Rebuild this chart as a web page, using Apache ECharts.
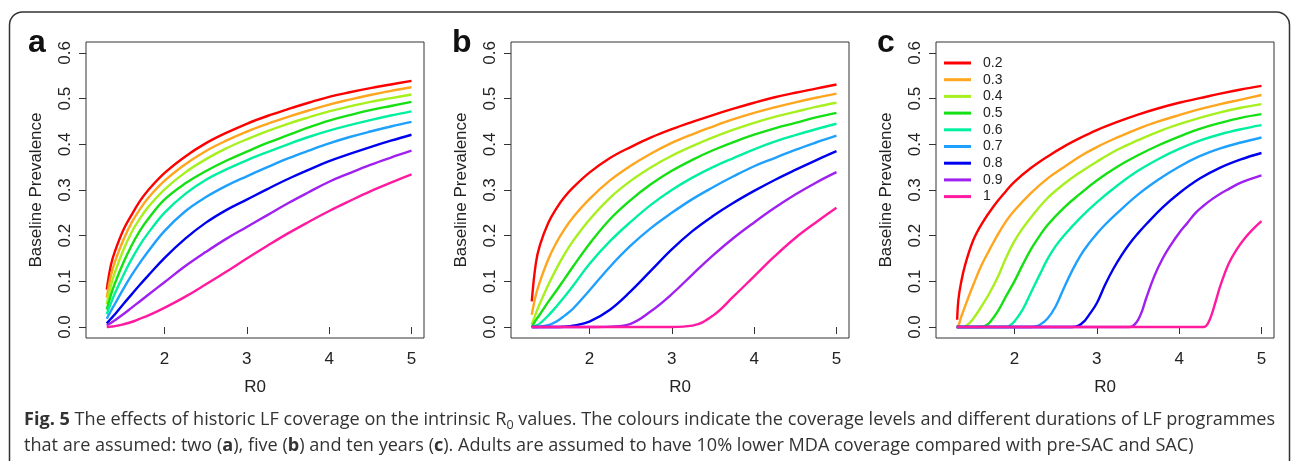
<!DOCTYPE html>
<html><head><meta charset="utf-8">
<script src="https://cdn.jsdelivr.net/npm/echarts@6/dist/echarts.min.js"></script>
<style>html,body{margin:0;padding:0;background:#fff}#c{width:1292px;height:461px}</style>
</head><body><div id="c"></div>
<script>
// ---------- data ----------
const COVERAGE = ['0.2', '0.3', '0.4', '0.5', '0.6', '0.7', '0.8', '0.9', '1'];
const X_TICKS = [2, 3, 4, 5];
const Y_TICKS = [0, 0.1, 0.2, 0.3, 0.4, 0.5, 0.6];
const PANEL_LETTERS = ['a', 'b', 'c'];

// Panel a (two years)
const X_A = [1.3, 1.35, 1.4, 1.5, 1.6, 1.7, 1.8, 2.0, 2.25, 2.5, 2.75, 3.0, 3.25, 3.5, 3.75, 4.0, 4.25, 4.5, 4.75, 5.0];
const A_02 = [0.082, 0.135, 0.166, 0.212, 0.245, 0.275, 0.299, 0.337, 0.373, 0.402, 0.425, 0.445, 0.462, 0.477, 0.491, 0.504, 0.514, 0.523, 0.531, 0.539];
const A_03 = [0.064, 0.112, 0.143, 0.19, 0.228, 0.257, 0.282, 0.32, 0.356, 0.385, 0.408, 0.428, 0.445, 0.46, 0.474, 0.487, 0.498, 0.508, 0.517, 0.525];
const A_04 = [0.05, 0.09, 0.12, 0.168, 0.207, 0.237, 0.262, 0.301, 0.338, 0.367, 0.391, 0.411, 0.429, 0.445, 0.459, 0.472, 0.483, 0.493, 0.501, 0.509];
const A_05 = [0.038, 0.07, 0.096, 0.14, 0.178, 0.21, 0.236, 0.279, 0.314, 0.341, 0.364, 0.384, 0.403, 0.42, 0.437, 0.452, 0.464, 0.475, 0.484, 0.493];
const A_06 = [0.028, 0.052, 0.074, 0.113, 0.148, 0.179, 0.205, 0.25, 0.291, 0.322, 0.345, 0.365, 0.383, 0.4, 0.416, 0.43, 0.442, 0.453, 0.463, 0.472];
const A_07 = [0.018, 0.035, 0.051, 0.083, 0.113, 0.14, 0.165, 0.21, 0.253, 0.284, 0.309, 0.33, 0.35, 0.369, 0.386, 0.402, 0.416, 0.428, 0.439, 0.449];
const A_08 = [0.008, 0.018, 0.028, 0.05, 0.071, 0.092, 0.112, 0.151, 0.193, 0.228, 0.256, 0.279, 0.302, 0.324, 0.344, 0.363, 0.379, 0.394, 0.408, 0.421];
const A_09 = [0.004, 0.009, 0.015, 0.028, 0.042, 0.056, 0.07, 0.098, 0.133, 0.164, 0.193, 0.219, 0.245, 0.271, 0.295, 0.318, 0.337, 0.355, 0.371, 0.386];
const A_10 = [0, 0.001, 0.002, 0.006, 0.011, 0.018, 0.025, 0.042, 0.066, 0.093, 0.121, 0.15, 0.178, 0.205, 0.23, 0.254, 0.276, 0.297, 0.316, 0.334];

// Panel b (five years)
const X_B = [1.3, 1.35, 1.4, 1.5, 1.6, 1.7, 1.8, 2.0, 2.25, 2.5, 2.75, 3.0, 3.25, 3.5, 3.75, 4.0, 4.25, 4.5, 4.75, 5.0];
const B_02 = [0.056, 0.14, 0.18, 0.228, 0.26, 0.285, 0.305, 0.338, 0.37, 0.394, 0.415, 0.433, 0.449, 0.464, 0.478, 0.491, 0.503, 0.513, 0.522, 0.531];
const B_03 = [0.027, 0.07, 0.1, 0.148, 0.185, 0.215, 0.24, 0.28, 0.321, 0.353, 0.38, 0.403, 0.422, 0.439, 0.455, 0.469, 0.481, 0.492, 0.502, 0.511];
const B_04 = [0.005, 0.03, 0.052, 0.092, 0.128, 0.16, 0.188, 0.235, 0.283, 0.32, 0.35, 0.375, 0.396, 0.415, 0.432, 0.447, 0.46, 0.471, 0.482, 0.491];
const B_05 = [0, 0.015, 0.028, 0.055, 0.08, 0.106, 0.132, 0.182, 0.236, 0.278, 0.313, 0.342, 0.366, 0.387, 0.405, 0.421, 0.435, 0.447, 0.459, 0.469];
const B_06 = [0, 0.003, 0.008, 0.025, 0.045, 0.067, 0.09, 0.138, 0.188, 0.23, 0.268, 0.3, 0.327, 0.35, 0.37, 0.389, 0.406, 0.42, 0.433, 0.445];
const B_07 = [0, 0, 0.001, 0.004, 0.012, 0.025, 0.04, 0.08, 0.132, 0.178, 0.217, 0.25, 0.28, 0.306, 0.33, 0.352, 0.37, 0.388, 0.404, 0.419];
const B_08 = [0, 0, 0, 0, 0, 0.001, 0.003, 0.012, 0.038, 0.078, 0.124, 0.17, 0.21, 0.243, 0.272, 0.298, 0.322, 0.344, 0.365, 0.385];
const B_09 = [0, 0, 0, 0, 0, 0, 0, 0, 0.001, 0.007, 0.035, 0.072, 0.115, 0.157, 0.195, 0.229, 0.261, 0.29, 0.316, 0.339];
const B_10 = [0, 0, 0, 0, 0, 0, 0, 0, 0, 0, 0, 0, 0.003, 0.025, 0.067, 0.111, 0.155, 0.195, 0.229, 0.261];

// Panel c (ten years): [R0, prevalence]
const C_02 = [[1.305, 0.016], [1.32, 0.06], [1.35, 0.095], [1.4, 0.135], [1.5, 0.19], [1.6, 0.225], [1.75, 0.265], [1.9, 0.298], [2.0, 0.318], [2.2, 0.348], [2.4, 0.373], [2.6, 0.395], [2.8, 0.414], [3.0, 0.431], [3.25, 0.449], [3.5, 0.465], [3.75, 0.479], [4.0, 0.491], [4.25, 0.501], [4.5, 0.511], [4.75, 0.520], [5.0, 0.528]];
const C_03 = [[1.3, 0], [1.32, 0.003], [1.35, 0.02], [1.4, 0.045], [1.5, 0.092], [1.6, 0.135], [1.7, 0.17], [1.8, 0.203], [1.9, 0.232], [2.0, 0.255], [2.2, 0.293], [2.4, 0.325], [2.6, 0.35], [2.8, 0.374], [3.0, 0.394], [3.25, 0.415], [3.5, 0.434], [3.75, 0.45], [4.0, 0.464], [4.25, 0.477], [4.5, 0.488], [4.75, 0.498], [5.0, 0.508]];
const C_04 = [[1.3, 0], [1.4, 0.002], [1.45, 0.008], [1.5, 0.018], [1.6, 0.045], [1.7, 0.075], [1.8, 0.11], [1.9, 0.152], [2.0, 0.188], [2.1, 0.216], [2.2, 0.24], [2.4, 0.282], [2.6, 0.313], [2.8, 0.339], [3.0, 0.362], [3.25, 0.388], [3.5, 0.409], [3.75, 0.428], [4.0, 0.444], [4.25, 0.458], [4.5, 0.47], [4.75, 0.48], [5.0, 0.488]];
const C_05 = [[1.3, 0], [1.6, 0], [1.65, 0.003], [1.7, 0.01], [1.8, 0.035], [1.9, 0.068], [2.0, 0.1], [2.1, 0.136], [2.2, 0.17], [2.3, 0.198], [2.4, 0.223], [2.6, 0.261], [2.8, 0.292], [3.0, 0.321], [3.25, 0.351], [3.5, 0.376], [3.75, 0.398], [4.0, 0.417], [4.25, 0.434], [4.5, 0.447], [4.75, 0.458], [5.0, 0.466]];
const C_06 = [[1.3, 0], [1.9, 0], [1.95, 0.004], [2.0, 0.012], [2.1, 0.038], [2.2, 0.075], [2.3, 0.112], [2.4, 0.148], [2.5, 0.177], [2.6, 0.2], [2.8, 0.239], [3.0, 0.273], [3.25, 0.31], [3.5, 0.342], [3.75, 0.368], [4.0, 0.39], [4.25, 0.408], [4.5, 0.422], [4.75, 0.433], [5.0, 0.442]];
const C_07 = [[1.3, 0], [2.2, 0], [2.3, 0.004], [2.4, 0.018], [2.5, 0.045], [2.6, 0.085], [2.7, 0.123], [2.8, 0.156], [2.9, 0.182], [3.0, 0.204], [3.1, 0.224], [3.25, 0.25], [3.5, 0.29], [3.75, 0.323], [4.0, 0.351], [4.25, 0.374], [4.5, 0.391], [4.75, 0.404], [5.0, 0.415]];
const C_08 = [[1.3, 0], [2.7, 0], [2.78, 0.003], [2.85, 0.013], [2.9, 0.025], [3.0, 0.052], [3.1, 0.092], [3.2, 0.127], [3.3, 0.157], [3.4, 0.183], [3.5, 0.205], [3.6, 0.225], [3.8, 0.262], [4.0, 0.293], [4.25, 0.325], [4.5, 0.349], [4.75, 0.367], [5.0, 0.381]];
const C_09 = [[1.3, 0], [3.4, 0], [3.45, 0.004], [3.5, 0.015], [3.55, 0.035], [3.6, 0.063], [3.7, 0.112], [3.8, 0.15], [3.9, 0.18], [4.0, 0.206], [4.1, 0.228], [4.2, 0.25], [4.3, 0.266], [4.4, 0.28], [4.5, 0.292], [4.6, 0.302], [4.75, 0.316], [5.0, 0.332]];
const C_10 = [[1.3, 0], [4.3, 0], [4.35, 0.008], [4.4, 0.03], [4.45, 0.06], [4.5, 0.09], [4.6, 0.138], [4.7, 0.17], [4.8, 0.195], [4.9, 0.215], [5.0, 0.232]];

// ---------- styling ----------
const COLORS = ['#FF0000', '#FFA51E', '#A6F01E', '#14E014', '#00F0A0', '#1EA0FF', '#0000F0', '#A020F0', '#FF1AA0'];
const X_MIN = 1.048, X_MAX = 5.152, Y_MIN = -0.024, Y_MAX = 0.624;
const GRID_LEFTS = [86, 511, 936];
const FONT = "'Liberation Sans', Arial, sans-serif";
const INK = '#222';

const pair = (xs, ys) => xs.map((x, i) => [x, ys[i]]);
const panels = [
  [A_02, A_03, A_04, A_05, A_06, A_07, A_08, A_09, A_10].map(y => pair(X_A, y)),
  [B_02, B_03, B_04, B_05, B_06, B_07, B_08, B_09, B_10].map(y => pair(X_B, y)),
  [C_02, C_03, C_04, C_05, C_06, C_07, C_08, C_09, C_10]
];

const grids = [], xAxes = [], yAxes = [], series = [], graphics = [];
GRID_LEFTS.forEach((left, p) => {
  grids.push({left: left, top: 42, width: 338, height: 296, show: true,
    borderColor: '#333', borderWidth: 1, backgroundColor: 'transparent'});
  xAxes.push({type: 'value', gridIndex: p, min: X_MIN, max: X_MAX,
    splitLine: {show: false}, axisLine: {show: false},
    axisTick: {show: true, customValues: X_TICKS, length: 7, lineStyle: {color: '#333', width: 1}},
    axisLabel: {customValues: X_TICKS, fontSize: 17, color: INK, fontFamily: FONT, margin: 13},
    name: 'R0', nameLocation: 'middle', nameGap: 41,
    nameTextStyle: {fontSize: 17, color: INK, fontFamily: FONT}});
  yAxes.push({type: 'value', gridIndex: p, min: Y_MIN, max: Y_MAX,
    splitLine: {show: false}, axisLine: {show: false},
    axisTick: {show: true, customValues: Y_TICKS, length: 7, lineStyle: {color: '#333', width: 1}},
    axisLabel: {customValues: Y_TICKS, fontSize: 17, color: INK, fontFamily: FONT, margin: 12, rotate: 90,
      formatter: v => Number(v).toFixed(1)},
    name: 'Baseline Prevalence', nameLocation: 'middle', nameGap: 41, nameRotate: 90,
    nameTextStyle: {fontSize: 17, color: INK, fontFamily: FONT}});
  panels[p].forEach((data, k) => {
    series.push({type: 'line', name: COVERAGE[k], xAxisIndex: p, yAxisIndex: p, data: data,
      color: COLORS[k], showSymbol: false, symbol: 'none', smooth: 0.4,
      lineStyle: {width: 2.4, color: COLORS[k]}, emphasis: {disabled: true}, z: 3});
  });
  graphics.push({type: 'text', x: [28, 452, 877][p], y: 43,
    style: {text: PANEL_LETTERS[p], font: "bold 32px 'Liberation Sans', Arial, sans-serif", fill: '#111', verticalAlign: 'middle'}});
});

const CAPTION_1 = '{b|Fig. 5} The effects of historic LF coverage on the intrinsic R{sub|0} values. The colours indicate the coverage levels and different durations of LF programmes';
const CAPTION_2 = 'that are assumed: two ({b|a}), five ({b|b}) and ten years ({b|c}). Adults are assumed to have 10% lower MDA coverage compared with pre-SAC and SAC)';
const CAP_FONT = "'Open Sans', 'Noto Sans', sans-serif";
const CAP_SIZE = 18.1;
const capRich = {
  b: {fontWeight: 'bold', fontSize: CAP_SIZE, fontFamily: CAP_FONT, fill: '#333', lineHeight: 24},
  sub: {fontSize: 12.5, fontFamily: CAP_FONT, fill: '#333', verticalAlign: 'bottom', lineHeight: 15}
};
graphics.push({type: 'rect', shape: {x: 9.5, y: 12, width: 1280, height: 470, r: 13},
  style: {fill: 'none', stroke: '#333', lineWidth: 1.5}, z: 0});
graphics.push({type: 'text', x: 24, y: 419.5, style: {text: CAPTION_1, fontSize: CAP_SIZE, fontFamily: CAP_FONT,
  fill: '#333', verticalAlign: 'middle', lineHeight: 24, rich: capRich}});
graphics.push({type: 'text', x: 24, y: 445.5, style: {text: CAPTION_2, fontSize: CAP_SIZE, fontFamily: CAP_FONT,
  fill: '#333', verticalAlign: 'middle', lineHeight: 24, rich: capRich}});

const chart = echarts.init(document.getElementById('c'), null, {renderer: 'canvas'});
chart.setOption({
  animation: false,
  backgroundColor: '#fff',
  grid: grids, xAxis: xAxes, yAxis: yAxes, series: series,
  legend: {show: true, orient: 'vertical', left: 939, top: 50, data: COVERAGE,
    icon: 'rect', itemWidth: 27, itemHeight: 3, itemGap: 0.7, selectedMode: false,
    textStyle: {fontSize: 14, color: INK, fontFamily: FONT, lineHeight: 16, padding: [0, 0, 0, 7]}},
  graphic: graphics
});
</script></body></html>
